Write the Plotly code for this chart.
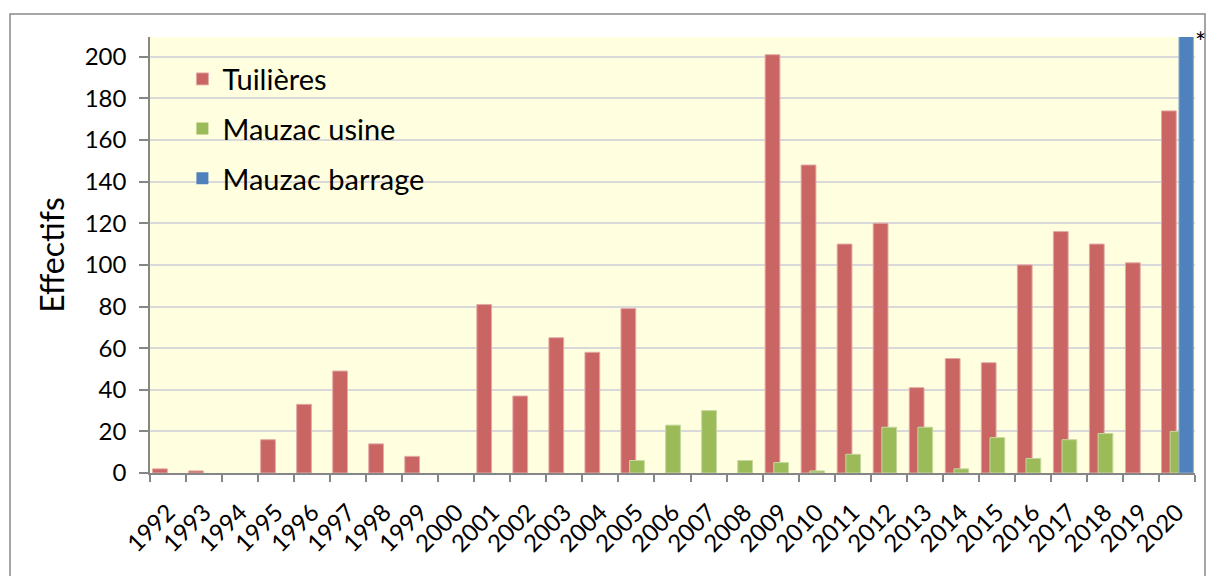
import plotly.graph_objects as go

years = [str(y) for y in range(1992, 2021)]
tuilieres = [2, 1, 0, 16, 33, 49, 14, 8, 0, 81, 37, 65, 58, 79, 0, 0, 0,
             201, 148, 110, 120, 41, 55, 53, 100, 116, 110, 101, 174]
mauzac_usine = [None] * 13 + [6, 23, 30, 6,
                              5, 1, 9, 22, 22, 2, 17, 7, 16, 19, None, 20]
mauzac_barrage = [None] * 28 + [240]

FONT = "Lato"


def lw(vals):
    return [1 if v else 0 for v in vals]


fig = go.Figure()
fig.add_trace(go.Bar(x=years, y=tuilieres, name="Tuilières", marker_color="#C96563",
                     marker_line=dict(color="#E3AAA8", width=lw(tuilieres)), width=0.41, offset=-0.43,
                     legendgroup="a"))
fig.add_trace(go.Bar(x=years, y=mauzac_usine, name="Mauzac usine", marker_color="#9BBB59",
                     marker_line=dict(color="#C5D99E", width=lw(mauzac_usine)), width=0.41, offset=-0.19,
                     legendgroup="b"))
fig.add_trace(go.Bar(x=years, y=mauzac_barrage, name="Mauzac barrage", marker_color="#4F81BD",
                     marker_line=dict(color="#8DADD6", width=lw(mauzac_barrage)), width=0.40, offset=0.055,
                     legendgroup="c"))

fig.update_layout(
    width=1208, height=576,
    barmode="overlay",
    paper_bgcolor="white",
    plot_bgcolor="#FFFFE0",
    margin=dict(l=150, r=13, t=37, b=103),
    font=dict(family=FONT, color="black"),
    showlegend=True,
    legend=dict(x=0.031, y=0.962, xanchor="left", yanchor="top",
                bgcolor="rgba(0,0,0,0)", font=dict(size=29, family=FONT),
                traceorder="grouped", tracegroupgap=9, itemwidth=30),
    xaxis=dict(
        type="category", tickangle=-45, tickfont=dict(size=24, family=FONT),
        showline=True, linecolor="#868686", linewidth=1.5,
        ticks="outside", ticklen=7, tickcolor="#868686", tickwidth=1.5,
        ticklabelstandoff=14,
        tickson="boundaries", showgrid=False, range=[-0.5, 28.5],
    ),
    yaxis=dict(
        range=[0, 209.5], tickvals=list(range(0, 201, 20)),
        tickfont=dict(size=24, family=FONT),
        showline=True, linecolor="#868686", linewidth=1.5,
        ticks="outside", ticklen=9, tickcolor="#868686", tickwidth=1.5,
        ticklabelstandoff=8,
        showgrid=True, gridcolor="#D9D9D9", gridwidth=1.5,
        zeroline=False,
        title=dict(text="Effectifs", font=dict(size=32, family=FONT), standoff=10),
    ),
)

# outer chart border
fig.add_shape(type="rect", xref="paper", yref="paper",
              x0=(10 - 150) / 1045, x1=(1205 - 150) / 1045,
              y0=-0.3, y1=(472.7 - 14) / 435.7,
              line=dict(color="#888888", width=1.5), fillcolor="rgba(0,0,0,0)", layer="below")

fig.add_annotation(text="*", xref="paper", yref="paper",
                   x=(1200 - 150) / 1045, y=(472.7 - 42) / 435.7, xanchor="center", yanchor="middle",
                   showarrow=False, font=dict(size=26, family=FONT))

fig.write_html("out.html", config={"displayModeBar": False},
               post_script="document.body.style.margin='0';document.body.style.overflow='hidden';")
